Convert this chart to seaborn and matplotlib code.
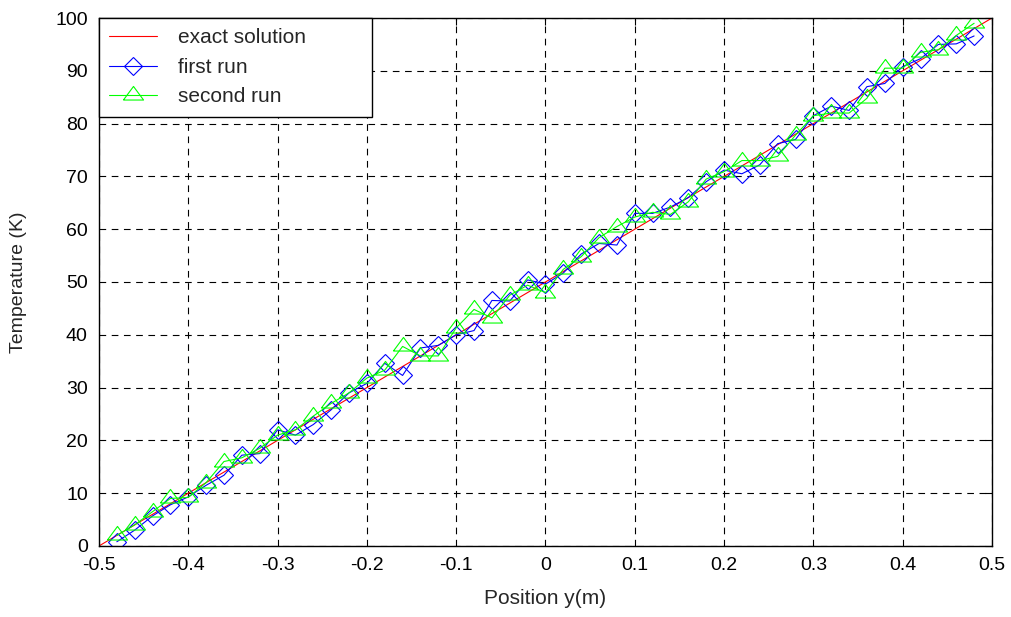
import matplotlib
matplotlib.use("Agg")
import matplotlib.pyplot as plt
import seaborn as sns
import numpy as np

# === dati ===
pos = [-0.48, -0.46, -0.44, -0.42, -0.40, -0.38, -0.36, -0.34, -0.32, -0.30,
       -0.28, -0.26, -0.24, -0.22, -0.20, -0.18, -0.16, -0.14, -0.12, -0.10,
       -0.08, -0.06, -0.04, -0.02, 0.00, 0.02, 0.04, 0.06, 0.08, 0.10,
       0.12, 0.14, 0.16, 0.18, 0.20, 0.22, 0.24, 0.26, 0.28, 0.30,
       0.32, 0.34, 0.36, 0.38, 0.40, 0.42, 0.44, 0.46, 0.48]

first_run = [0.8, 3.0, 5.7, 7.8, 9.3, 11.5, 13.4, 17.2, 17.5, 22.0,
             21.0, 23.0, 25.8, 29.0, 30.8, 34.6, 32.3, 37.5, 38.0, 40.0,
             40.8, 46.5, 46.4, 50.4, 49.6, 51.7, 55.3, 57.3, 57.0, 63.0,
             63.0, 64.2, 66.0, 69.0, 71.2, 70.5, 72.2, 76.2, 77.0, 81.5,
             83.3, 82.5, 87.0, 87.6, 90.8, 92.3, 95.0, 95.1, 96.6]

second_run = [2.0, 4.0, 6.5, 9.0, 9.2, 12.0, 16.0, 16.7, 18.5, 21.0,
              22.0, 24.6, 27.0, 29.0, 31.8, 33.3, 37.8, 36.0, 36.0, 41.3,
              44.8, 43.2, 47.5, 49.4, 48.0, 52.4, 54.8, 58.4, 60.5, 62.3,
              63.2, 62.8, 65.2, 69.5, 70.9, 73.0, 73.0, 73.8, 77.8, 81.5,
              82.0, 82.0, 84.8, 90.5, 90.5, 93.5, 94.0, 96.7, 99.0]

exact_x = [-0.5, 0.5]
exact_T = [0, 100]

xticks = [-0.5, -0.4, -0.3, -0.2, -0.1, 0, 0.1, 0.2, 0.3, 0.4, 0.5]
xtick_labels = ["-0.5", "-0.4", "-0.3", "-0.2", "-0.1", "0", "0.1", "0.2", "0.3", "0.4", "0.5"]
yticks = [0, 10, 20, 30, 40, 50, 60, 70, 80, 90, 100]

sns.set_style("white")
plt.rcParams['font.family'] = ['Liberation Sans', 'DejaVu Sans']

fig = plt.figure(figsize=(10.12, 6.17), dpi=100)
ax = fig.add_axes([0.0978, 0.1151, 0.8824, 0.8557])

# triangolo piatto stile MATLAB
tri = [(-1, -0.45), (1, -0.45), (0, 0.9), (-1, -0.45)]

sns.lineplot(x=exact_x, y=exact_T, ax=ax, color="red", linewidth=0.8,
             label="exact solution")
sns.lineplot(x=pos, y=first_run, ax=ax, color="blue", linewidth=0.8,
             marker="D", markersize=9.5, markerfacecolor="none",
             markeredgecolor="blue", markeredgewidth=0.8, label="first run")
sns.lineplot(x=pos, y=second_run, ax=ax, color="#00ff00", linewidth=0.8,
             marker=tri, markersize=14.5, markerfacecolor="none",
             markeredgecolor="#00ff00", markeredgewidth=0.8, label="second run")

ax.set_xlim(-0.5, 0.5)
ax.set_ylim(0, 100)
ax.set_xticks(xticks)
ax.set_xticklabels(xtick_labels)
ax.set_yticks(yticks)
ax.tick_params(labelsize=14)
ax.tick_params(axis="x", pad=8)
ax.tick_params(axis="y", pad=8)
ax.tick_params(direction="in", length=5, width=0.8, top=True, right=True,
               colors="black")
ax.grid(True, color="black", linestyle=(0, (6, 5)), linewidth=0.8)
for s in ax.spines.values():
    s.set_color("black")
    s.set_linewidth(1.0)

ax.set_xlabel("Position y(m)", fontsize=15, labelpad=11)
ax.set_ylabel("Temperature (K)", fontsize=14, labelpad=20)

leg = ax.legend(loc="upper left", bbox_to_anchor=(0, 1, 273 / 893, 0),
                mode="expand", fontsize=15, frameon=True, fancybox=False,
                borderaxespad=0, handlelength=2.3, borderpad=0.5,
                labelspacing=0.5, handletextpad=1.0)
leg.get_frame().set_edgecolor("black")
leg.get_frame().set_linewidth(1.0)
leg.get_frame().set_alpha(1)

fig.savefig("out.png", dpi=100)
